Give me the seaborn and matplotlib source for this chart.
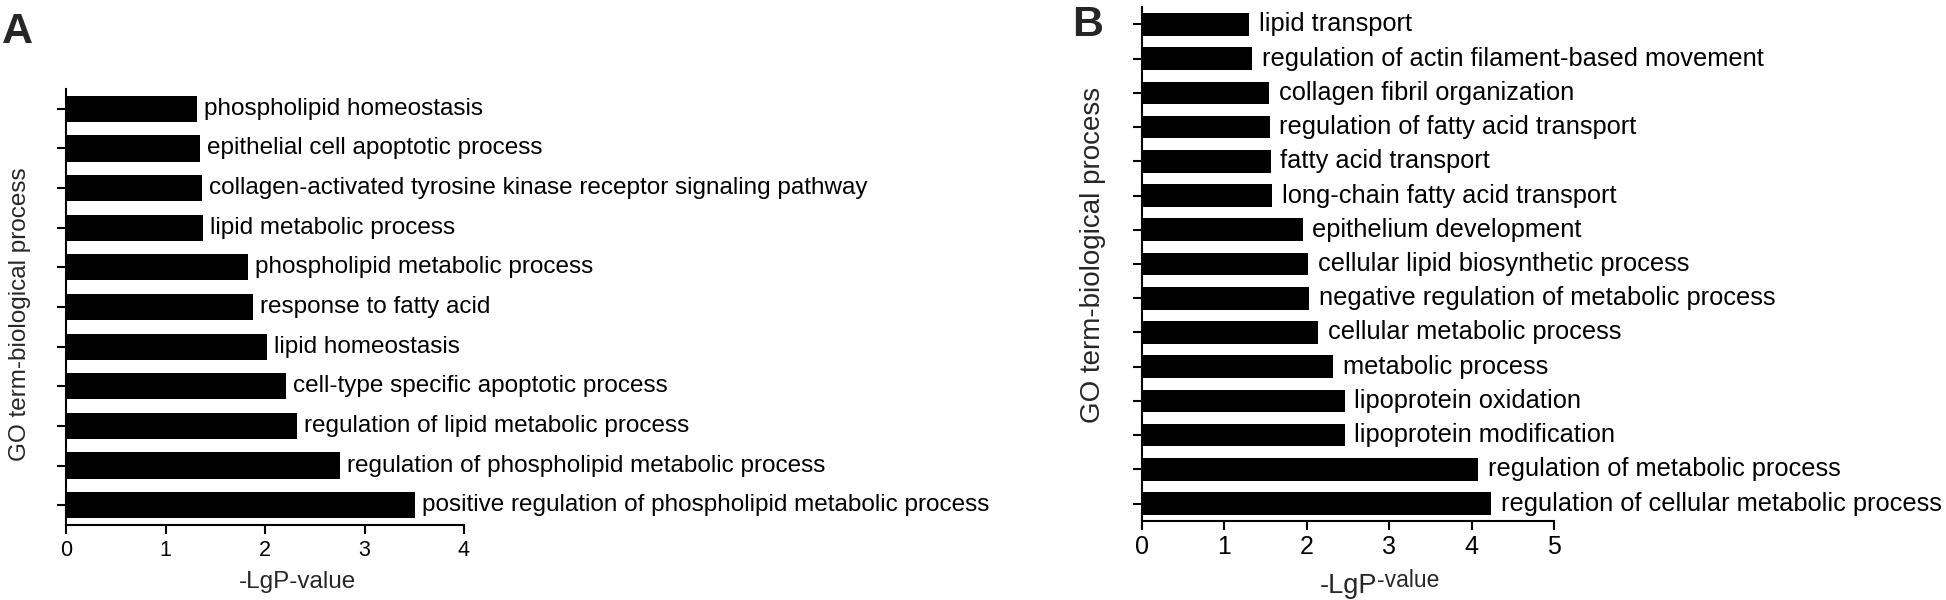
import matplotlib
matplotlib.use("Agg")
import matplotlib.pyplot as plt
import seaborn as sns
import pandas as pd

sns.set_theme(style="white")
plt.rcParams['font.family'] = ['Liberation Sans', 'DejaVu Sans']

# ---- data ----
terms_a = [
    "phospholipid homeostasis",
    "epithelial cell apoptotic process",
    "collagen-activated tyrosine kinase receptor signaling pathway",
    "lipid metabolic process",
    "phospholipid metabolic process",
    "response to fatty acid",
    "lipid homeostasis",
    "cell-type specific apoptotic process",
    "regulation of lipid metabolic process",
    "regulation of phospholipid metabolic process",
    "positive regulation of phospholipid metabolic process",
]
values_a = [1.32, 1.35, 1.37, 1.38, 1.83, 1.88, 2.02, 2.21, 2.32, 2.75, 3.51]

terms_b = [
    "lipid transport",
    "regulation of actin filament-based movement",
    "collagen fibril organization",
    "regulation of fatty acid transport",
    "fatty acid transport",
    "long-chain fatty acid transport",
    "epithelium development",
    "cellular lipid biosynthetic process",
    "negative regulation of metabolic process",
    "cellular metabolic process",
    "metabolic process",
    "lipoprotein oxidation",
    "lipoprotein modification",
    "regulation of metabolic process",
    "regulation of cellular metabolic process",
]
values_b = [1.30, 1.34, 1.54, 1.55, 1.56, 1.58, 1.95, 2.02, 2.03, 2.14, 2.32, 2.46, 2.46, 4.08, 4.24]

ticks_a = [0, 1, 2, 3, 4]
ticks_b = [0, 1, 2, 3, 4, 5]

W, H = 1946, 600
fig = plt.figure(figsize=(W / 100, H / 100), dpi=100)

def fx(px):
    return px / W

def fy(py):
    return 1 - py / H

ax_a = fig.add_axes([fx(66), fy(525), fx(464 - 66), (525 - 89) / H])
ax_b = fig.add_axes([fx(1142), fy(520.7), fx(1554 - 1142), (520.7 - 7.3) / H])

def draw(ax, terms, values, ticks, label_fs, tick_fs, offset_pt):
    df = pd.DataFrame({"term": terms, "value": values})
    sns.barplot(data=df, x="value", y="term", orient="h", color="black",
                width=0.66, linewidth=0, saturation=1, ax=ax)
    for i, (t, v) in enumerate(zip(terms, values)):
        ax.annotate(t, xy=(v, i), xytext=(offset_pt, 0), textcoords="offset points",
                    ha="left", va="center", fontsize=label_fs, color="black",
                    annotation_clip=False)
    ax.set_xlim(ticks[0], ticks[-1])
    ax.set_ylim(len(terms) - 0.5, -0.5)
    ax.set_xticks(ticks)
    ax.set_xticklabels([str(t) for t in ticks])
    ax.set_yticks(range(len(terms)))
    ax.set_yticklabels([])
    ax.set_xlabel("")
    ax.set_ylabel("")
    sns.despine(ax=ax)
    for s in ("left", "bottom"):
        ax.spines[s].set_linewidth(1.5)
        ax.spines[s].set_color("black")
    ax.tick_params(axis="both", direction="out", length=6.5, width=1.5,
                   color="black", labelcolor="black", labelsize=tick_fs, pad=4,
                   left=True, bottom=True)
    ax.set_facecolor("white")

draw(ax_a, terms_a, values_a, ticks_a, 17.5, 15.5, 5)
draw(ax_b, terms_b, values_b, ticks_b, 18.3, 18, 7)

# axis titles
fig.text(fx(297), fy(588), "-LgP-value", ha="center", va="baseline", fontsize=17.5)
fig.text(fx(20), fy(314), "GO term-biological process", rotation=90,
         ha="center", va="center", fontsize=17.5)

fig.text(fx(1320), fy(593), "-LgP", ha="left", va="baseline", fontsize=19.5)
fig.text(fx(1377), fy(587), "-value", ha="left", va="baseline", fontsize=16.5)
fig.text(fx(1093), fy(255), "GO term-biological process", rotation=90,
         ha="center", va="center", fontsize=20)

# panel letters
fig.text(fx(2), fy(43), "A", ha="left", va="baseline", fontsize=31, fontweight="bold")
fig.text(fx(1072), fy(36), "B", ha="left", va="baseline", fontsize=31, fontweight="bold")

fig.savefig("out.png", dpi=100, facecolor="white")
